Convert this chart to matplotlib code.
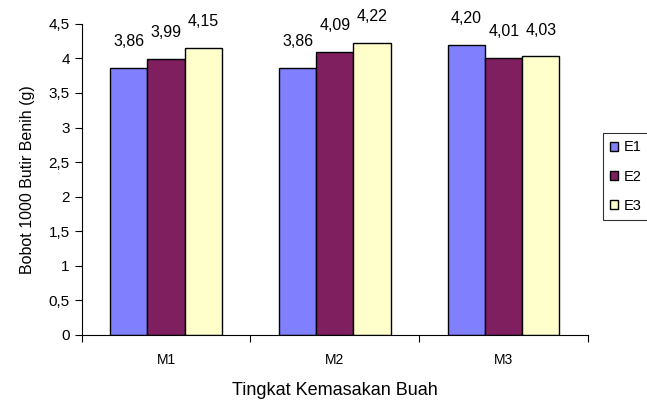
import numpy as np
import matplotlib.pyplot as plt

plt.rcParams['font.family'] = ['Liberation Sans', 'DejaVu Sans']

categories = ['M1', 'M2', 'M3']
series = ['E1', 'E2', 'E3']
e1 = [3.86, 3.86, 4.20]
e2 = [3.99, 4.09, 4.01]
e3 = [4.15, 4.22, 4.03]
labels_e1 = ['3,86', '3,86', '4,20']
labels_e2 = ['3,99', '4,09', '4,01']
labels_e3 = ['4,15', '4,22', '4,03']
yticks = [0, 0.5, 1, 1.5, 2, 2.5, 3, 3.5, 4, 4.5]
ytick_labels = ['0', '0,5', '1', '1,5', '2', '2,5', '3', '3,5', '4', '4,5']

colors = ['#8080FF', '#7F1F5F', '#FFFFCC']

fig = plt.figure(figsize=(6.47, 4.04), dpi=100)
ax = fig.add_axes([0.126, 0.171, 0.783, 0.770])

x = np.arange(len(categories))
w = 0.22
for i, (vals, labs) in enumerate(zip([e1, e2, e3], [labels_e1, labels_e2, labels_e3])):
    pos = x + (i - 1) * w
    ax.bar(pos, vals, width=w, color=colors[i], edgecolor='black', linewidth=1.0, label=series[i])
    for px, v, t in zip(pos, vals, labs):
        ax.annotate(t, (px, v), xytext=(0, 13.5), textcoords='offset points',
                    ha='center', va='bottom', fontsize=11.5,
                    family=['Liberation Sans Narrow', 'Liberation Sans', 'DejaVu Sans'])

ax.set_xlim(-0.5, 2.5)
ax.set_ylim(0, 4.5)
ax.set_yticks(yticks)
ax.set_yticklabels(ytick_labels, fontsize=11)
ax.set_xticks([-0.5, 0.5, 1.5, 2.5])
ax.set_xticklabels([])
ax.set_xticks(x, minor=True)
ax.set_xticklabels(categories, minor=True, fontsize=10)
ax.tick_params(axis='x', which='minor', length=0, pad=13)
ax.tick_params(axis='x', which='major', length=5, direction='out')
ax.tick_params(axis='y', length=5, direction='out')
for s in ['top', 'right']:
    ax.spines[s].set_visible(False)

ax.set_xlabel('Tingkat Kemasakan Buah', fontsize=13, labelpad=11)
ax.set_ylabel('Bobot 1000 Butir Benih (g)', fontsize=11.5, labelpad=10)

leg = fig.legend(loc='upper left', bbox_to_anchor=(603 / 647, 1 - 133 / 404),
                 fontsize=10.5, frameon=True, fancybox=False, edgecolor='black',
                 handlelength=0.55, handleheight=0.55, handletextpad=0.4,
                 borderpad=0.5, labelspacing=1.05, borderaxespad=0)
leg.get_frame().set_linewidth(0.8)

fig.savefig('out.png', dpi=100)
